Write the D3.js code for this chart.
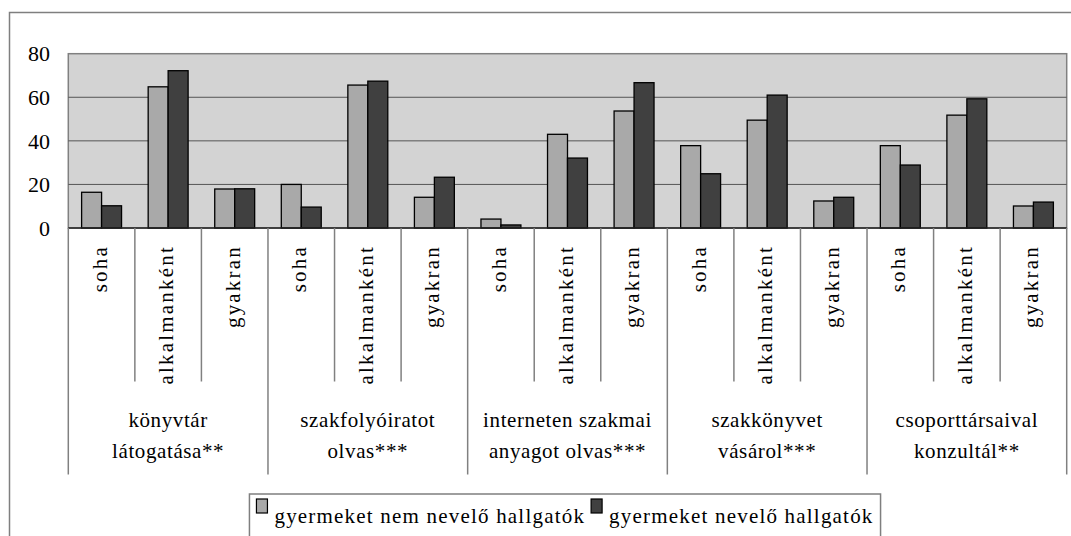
<!DOCTYPE html>
<html>
<head>
<meta charset="utf-8">
<script src="https://cdn.jsdelivr.net/npm/d3@7"></script>
<style>
  html, body { margin: 0; padding: 0; background: #fff; }
</style>
</head>
<body>
<svg id="chart" width="1071" height="536"></svg>
<script>
var groups = [
  ["könyvtár", "látogatása**"],
  ["szakfolyóiratot", "olvas***"],
  ["interneten szakmai", "anyagot olvas***"],
  ["szakkönyvet", "vásárol***"],
  ["csoporttársaival", "konzultál**"]
];
var answers = ["soha", "alkalmanként", "gyakran"];
var seriesNames = ["gyermeket nem nevelő hallgatók", "gyermeket nevelő hallgatók"];
var nonParents = [16.4, 64.8, 17.9, 20.0, 65.6, 14.1, 4.1, 43.0, 53.7, 37.8, 49.5, 12.4, 37.8, 51.8, 10.1];
var parents = [10.2, 72.2, 18.0, 9.6, 67.4, 23.3, 1.4, 32.1, 66.7, 24.9, 61.0, 14.1, 28.9, 59.3, 11.9];
var yTicks = [0, 20, 40, 60, 80];

(function () {
  "use strict";

  // pick the first serif face that is really installed
  function pickFont(list) {
    var ctx = document.createElement("canvas").getContext("2d");
    var sample = "alkalmanként gyermeket 0123456789";
    ctx.font = "40px monospace";
    var base = ctx.measureText(sample).width;
    for (var i = 0; i < list.length; i++) {
      ctx.font = "40px '" + list[i] + "', monospace";
      if (Math.abs(ctx.measureText(sample).width - base) > 0.5) return "'" + list[i] + "'";
    }
    return "serif";
  }
  var font = pickFont(["Liberation Serif", "Times New Roman", "Tinos", "Nimbus Roman", "DejaVu Serif", "Noto Serif"]) + ", serif";

  var svg = d3.select("#chart").style("font-family", font);
  var colors = ["#a9a9a9", "#404040"];
  var left = 68.3, right = 1066.7, top = 53.7, bottom = 228;

  // flat list of the 15 categories
  var cats = [];
  groups.forEach(function (g, gi) {
    answers.forEach(function (a, ai) {
      cats.push({ id: gi + "-" + ai, group: gi, answer: a, values: [nonParents[cats.length], parents[cats.length]] });
    });
  });

  var x = d3.scaleBand().domain(cats.map(function (c) { return c.id; })).range([left, right]);
  var xs = d3.scaleBand().domain([0, 1]).range([x.bandwidth() * 0.2, x.bandwidth() * 0.8]);
  var y = d3.scaleLinear().domain([0, 80]).range([bottom, top]);

  // outer frame (runs off the picture on the right and bottom)
  svg.append("rect")
      .attr("x", 9.5).attr("y", 12.5)
      .attr("width", 1100).attr("height", 560)
      .attr("fill", "none").attr("stroke", "#7f7f7f").attr("stroke-width", 1.5);

  // plot area
  svg.append("rect")
      .attr("x", left).attr("y", top)
      .attr("width", right - left).attr("height", bottom - top)
      .attr("fill", "#d3d3d3").attr("stroke", "#808080").attr("stroke-width", 1.5);

  svg.append("g").selectAll("line")
      .data(yTicks.filter(function (t) { return t > 0 && t < 80; }))
    .enter().append("line")
      .attr("x1", left).attr("x2", right)
      .attr("y1", function (d) { return y(d); }).attr("y2", function (d) { return y(d); })
      .attr("stroke", "#555").attr("stroke-width", 1);

  svg.append("g").selectAll("text")
      .data(yTicks)
    .enter().append("text")
      .attr("x", 50).attr("y", function (d) { return y(d); })
      .attr("dy", "0.35em")
      .attr("text-anchor", "end")
      .attr("font-size", 22)
      .attr("fill", "#000")
      .text(function (d) { return d; });

  // bars
  var cat = svg.append("g").selectAll("g")
      .data(cats)
    .enter().append("g")
      .attr("transform", function (d) { return "translate(" + x(d.id) + ",0)"; });

  cat.selectAll("rect")
      .data(function (d) { return d.values; })
    .enter().append("rect")
      .attr("x", function (d, i) { return xs(i); })
      .attr("y", function (d) { return y(d); })
      .attr("width", xs.bandwidth())
      .attr("height", function (d) { return y(0) - y(d); })
      .attr("fill", function (d, i) { return colors[i]; })
      .attr("stroke", "#000").attr("stroke-width", 1.3);

  // axis line
  svg.append("line")
      .attr("x1", left).attr("x2", right)
      .attr("y1", bottom).attr("y2", bottom)
      .attr("stroke", "#222").attr("stroke-width", 1.5);

  // category separators below the axis
  var seps = d3.range(cats.length + 1);
  svg.append("g").selectAll("line")
      .data(seps)
    .enter().append("line")
      .attr("x1", function (i) { return left + i * x.step(); })
      .attr("x2", function (i) { return left + i * x.step(); })
      .attr("y1", bottom)
      .attr("y2", function (i) { return i % 3 === 0 ? 474.5 : 381.5; })
      .attr("stroke", "#808080").attr("stroke-width", 1.5);

  // answer labels, rotated
  cat.append("text")
      .attr("transform", function () { return "translate(" + (x.bandwidth() / 2 + 5) + ",245) rotate(-90)"; })
      .attr("text-anchor", "end")
      .attr("font-size", 21)
      .attr("letter-spacing", "2.2px")
      .attr("fill", "#000")
      .text(function (d) { return d.answer; });

  // group labels
  var gl = svg.append("g").selectAll("text")
      .data(groups)
    .enter().append("text")
      .attr("text-anchor", "middle")
      .attr("font-size", 21)
      .attr("letter-spacing", "0.6px")
      .attr("fill", "#000")
      .attr("transform", function (d, i) { return "translate(" + (left + (i * 3 + 1.5) * x.step()) + ",0)"; });
  gl.append("tspan").attr("x", 0).attr("y", 427).text(function (d) { return d[0]; });
  gl.append("tspan").attr("x", 0).attr("y", 458).text(function (d) { return d[1]; });

  // legend
  var legend = svg.append("g");
  var box = legend.append("rect")
      .attr("fill", "#fff").attr("stroke", "#7f7f7f").attr("stroke-width", 1.5);
  var cursor = 0;
  seriesNames.forEach(function (name, i) {
    legend.append("rect")
        .attr("x", cursor).attr("y", 514 - 15)
        .attr("width", 11).attr("height", 14)
        .attr("fill", colors[i]).attr("stroke", "#000").attr("stroke-width", 1.2);
    var t = legend.append("text")
        .attr("x", cursor + 18).attr("y", 523)
        .attr("font-size", 21)
        .attr("letter-spacing", "1.2px")
        .attr("fill", "#000")
        .text(name);
    cursor += 18 + t.node().getComputedTextLength() + 6;
  });
  var legW = cursor - 6 + 14;
  var legX = 565 - legW / 2;
  legend.attr("transform", "translate(" + (legX + 7) + ",0)");
  box.attr("x", -7).attr("y", 494).attr("width", legW).attr("height", 60);
}());
</script>
</body>
</html>
